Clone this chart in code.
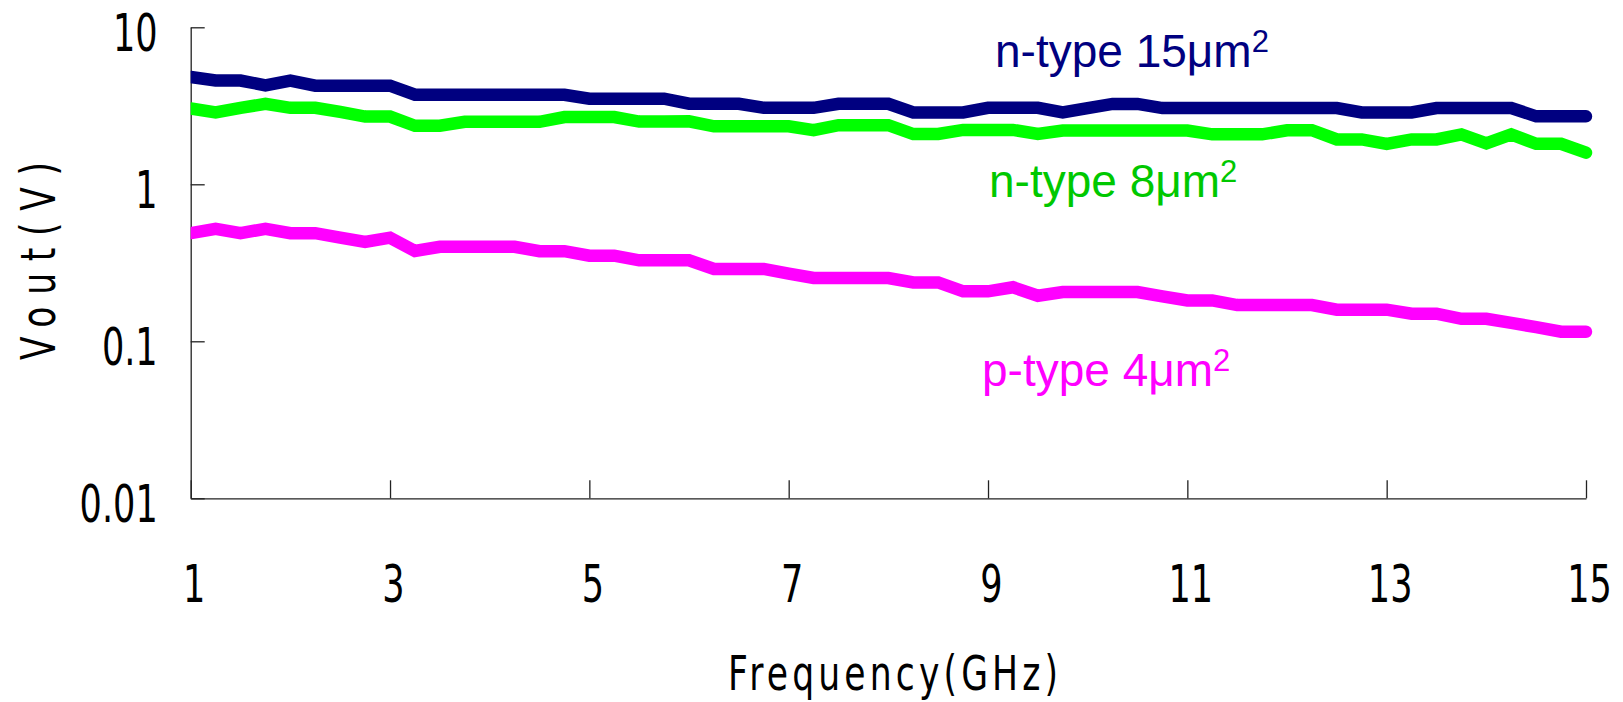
<!DOCTYPE html>
<html>
<head>
<meta charset="utf-8">
<script src="https://cdn.jsdelivr.net/npm/d3@7"></script>
<style>
  body { margin: 0; background: #fff; }
  .digital { font-family: 'Liberation Sans Narrow', 'DejaVu Sans Condensed', sans-serif; }
  .legend { font-family: 'Liberation Sans', Arial, sans-serif; }
</style>
</head>
<body>
<div id="chart"></div>
<script>
const W = 1623
const H = 702
const margin = { top: 27.3, left: 190.7, right: 37, bottom: 203.7 }
const width = W - margin.left - margin.right
const height = H - margin.top - margin.bottom
const SQUEEZE = 0.75 // digits in the original are tall and narrow
const TITLE_SQUEEZE = 0.8

// frequency points (GHz)
const freqs = [
  1, 1.25, 1.5, 1.75, 2, 2.25, 2.5, 2.75, 3, 3.25, 3.5, 3.75, 4, 4.25, 4.5,
  4.75, 5, 5.25, 5.5, 5.75, 6, 6.25, 6.5, 6.75, 7, 7.25, 7.5, 7.75, 8, 8.25,
  8.5, 8.75, 9, 9.25, 9.5, 9.75, 10, 10.25, 10.5, 10.75, 11, 11.25, 11.5,
  11.75, 12, 12.25, 12.5, 12.75, 13, 13.25, 13.5, 13.75, 14, 14.25, 14.5,
  14.75, 15
]

// Vout (V), n-type 15um2
const ntype15 = [
  4.82, 4.58, 4.58, 4.27, 4.57, 4.25, 4.25, 4.25, 4.25, 3.72, 3.72, 3.72,
  3.72, 3.72, 3.72, 3.72, 3.51, 3.51, 3.51, 3.51, 3.26, 3.26, 3.26, 3.07,
  3.07, 3.07, 3.26, 3.26, 3.26, 2.87, 2.87, 2.87, 3.07, 3.07, 3.07, 2.87,
  3.06, 3.25, 3.25, 3.06, 3.06, 3.06, 3.06, 3.06, 3.06, 3.06, 3.06, 2.87,
  2.87, 2.87, 3.06, 3.06, 3.06, 3.06, 2.71, 2.71, 2.71
]

// Vout (V), n-type 8um2
const ntype8 = [
  3.04, 2.87, 3.07, 3.25, 3.07, 3.07, 2.89, 2.7, 2.7, 2.36, 2.36, 2.5, 2.5,
  2.5, 2.5, 2.68, 2.68, 2.68, 2.51, 2.51, 2.52, 2.34, 2.34, 2.34, 2.34, 2.21,
  2.38, 2.38, 2.38, 2.09, 2.09, 2.22, 2.22, 2.22, 2.09, 2.2, 2.2, 2.2, 2.2,
  2.2, 2.2, 2.08, 2.08, 2.08, 2.21, 2.21, 1.93, 1.93, 1.81, 1.93, 1.93, 2.08,
  1.82, 2.08, 1.81, 1.81, 1.59
]

// Vout (V), p-type 4um2
const ptype4 = [
  0.488, 0.521, 0.488, 0.521, 0.488, 0.488, 0.457, 0.429, 0.457, 0.376, 0.4,
  0.4, 0.4, 0.4, 0.375, 0.375, 0.351, 0.351, 0.328, 0.328, 0.328, 0.289,
  0.289, 0.289, 0.27, 0.253, 0.253, 0.253, 0.253, 0.237, 0.237, 0.208, 0.208,
  0.221, 0.195, 0.206, 0.206, 0.206, 0.206, 0.193, 0.182, 0.182, 0.17, 0.17,
  0.17, 0.17, 0.159, 0.159, 0.159, 0.15, 0.15, 0.139, 0.139, 0.131, 0.123,
  0.115, 0.115
]

const seriesNames = ['n-type 15', 'n-type 8', 'p-type 4']
const seriesColors = ['#000080', '#00ff00', '#ff00ff']
const labelColors = ['#000080', '#00c800', '#ff00ff']

const xTicks = [1, 3, 5, 7, 9, 11, 13, 15]
const yTicks = [0.01, 0.1, 1, 10]
const yTickLabels = ['0.01', '0.1', '1', '10']

const svg = d3
  .select('#chart')
  .append('svg')
  .attr('width', W)
  .attr('height', H)

const g = svg
  .append('g')
  .attr('transform', 'translate(' + margin.left + ',' + margin.top + ')')

const x = d3
  .scaleLinear()
  .domain([1, 15])
  .range([0, width])

const y = d3
  .scaleLog()
  .domain([0.01, 10])
  .range([height, 0])

// axes
const xAxis = g
  .append('g')
  .attr('transform', 'translate(0,' + height + ')')
  .call(
    d3
      .axisBottom(x)
      .tickValues(xTicks)
      .tickSize(-18)
      .tickSizeOuter(0)
      .tickFormat(d3.format('d'))
  )

const yAxis = g
  .append('g')
  .call(
    d3
      .axisLeft(y)
      .tickValues(yTicks)
      .tickSize(-14)
      .tickSizeOuter(0)
      .tickFormat((d, i) => yTickLabels[i])
  )

xAxis.attr('font-family', null).attr('class', 'digital')
yAxis.attr('font-family', null).attr('class', 'digital')

g.selectAll('.domain, .tick line')
  .attr('stroke', '#222')
  .attr('stroke-width', 1.3)

xAxis
  .selectAll('text')
  .attr('x', 0)
  .attr('y', 0)
  .attr('dy', 0)
  .attr('transform', 'translate(3,104) scale(' + SQUEEZE + ',1)')
  .attr('font-size', 52)
  .attr('fill', '#000')

yAxis
  .selectAll('text')
  .attr('x', 0)
  .attr('dy', 0)
  .attr('transform', 'translate(-33,23) scale(' + SQUEEZE + ',1)')
  .attr('font-size', 52)
  .attr('fill', '#000')

// lines
g.append('clipPath')
  .attr('id', 'plot-clip')
  .append('rect')
  .attr('x', 0)
  .attr('y', -margin.top)
  .attr('width', width + margin.right)
  .attr('height', H)

const line = d3
  .line()
  .x((d, i) => x(freqs[i]))
  .y(d => y(d))

const allSeries = [ntype15, ntype8, ptype4]

g.append('g')
  .attr('clip-path', 'url(#plot-clip)')
  .selectAll('path')
  .data(allSeries)
  .enter()
  .append('path')
  .attr('d', line)
  .attr('fill', 'none')
  .attr('stroke', (d, i) => seriesColors[i])
  .attr('stroke-width', 12.5)
  .attr('stroke-linecap', 'round')

// series labels
const labelPos = [
  { x: 995, y: 66.5 },
  { x: 989, y: 196.7 },
  { x: 982, y: 386 }
]

const labels = svg
  .selectAll('text.legend')
  .data(seriesNames)
  .enter()
  .append('text')
  .attr('class', 'legend')
  .attr('x', (d, i) => labelPos[i].x)
  .attr('y', (d, i) => labelPos[i].y)
  .attr('font-size', 46)
  .attr('fill', (d, i) => labelColors[i])

labels.append('tspan').text(d => d + '\u03bcm')
labels
  .append('tspan')
  .attr('font-size', 31)
  .attr('dy', -15)
  .text('2')

// axis titles: narrow glyphs, spread out
svg
  .append('text')
  .attr('class', 'digital')
  .attr('transform', 'translate(728,690) scale(' + TITLE_SQUEEZE + ',1)')
  .attr('font-size', 48)
  .attr('textLength', 330 / TITLE_SQUEEZE)
  .attr('lengthAdjust', 'spacing')
  .text('Frequency(GHz)')

svg
  .append('text')
  .attr('class', 'digital')
  .attr(
    'transform',
    'translate(55,360) rotate(-90) scale(' + TITLE_SQUEEZE + ',1)'
  )
  .attr('font-size', 48)
  .attr('textLength', 198 / TITLE_SQUEEZE)
  .attr('lengthAdjust', 'spacing')
  .text('Vout(V)')
</script>
</body>
</html>
